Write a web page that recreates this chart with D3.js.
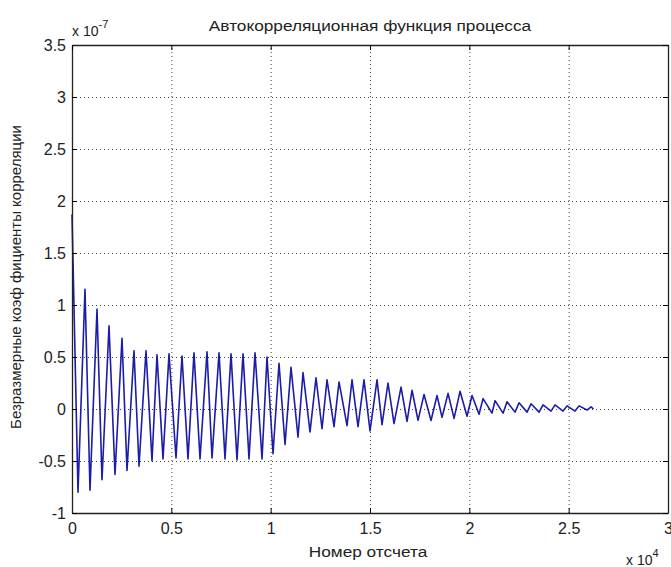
<html>
<head>
<meta charset="utf-8">
<script src="https://cdn.jsdelivr.net/npm/d3@7"></script>
<style>
  body { margin: 0; background: #fff; }
  text { font-family: "Liberation Sans", Arial, sans-serif; fill: #222; }
</style>
</head>
<body>
<script>
// autocorrelation, values in units of 1e-7, lag in samples
var peakLag = [0, 654, 1259, 1863, 2517, 3121, 3725, 4279, 4883, 5537, 6141, 6796,
  7400, 8004, 8608, 9212, 9816, 10420, 11024, 11629, 12283, 12837, 13441, 14095,
  14699, 15354, 15907, 16562, 17116, 17720, 18374, 18928, 19532, 20136, 20690,
  21294, 21898, 22502, 23106, 23710, 24315, 24919, 25523, 26127];
var peakVal = [1.87, 1.15, 0.96, 0.80, 0.68, 0.56, 0.56, 0.52, 0.53, 0.51, 0.54, 0.55,
  0.54, 0.53, 0.53, 0.54, 0.50, 0.44, 0.40, 0.35, 0.30, 0.28, 0.26, 0.28,
  0.28, 0.28, 0.25, 0.21, 0.18, 0.14, 0.13, 0.15, 0.17, 0.13, 0.10,
  0.08, 0.07, 0.06, 0.05, 0.04, 0.04, 0.03, 0.03, 0.02];
var troughLag = [302, 906, 1510, 2165, 2769, 3373, 4027, 4581, 5235, 5839, 6444, 7048,
  7702, 8306, 8910, 9565, 10118, 10722, 11377, 11981, 12585, 13189, 13844, 14397,
  15001, 15605, 16209, 16864, 17418, 18072, 18626, 19230, 19884, 20488, 21143,
  21697, 22301, 22905, 23509, 24113, 24717, 25321, 25925, 26250];
var troughVal = [-0.80, -0.78, -0.68, -0.63, -0.59, -0.55, -0.50, -0.48, -0.47, -0.48, -0.48, -0.47,
  -0.48, -0.49, -0.48, -0.48, -0.43, -0.34, -0.27, -0.22, -0.19, -0.17, -0.16, -0.17,
  -0.21, -0.15, -0.14, -0.12, -0.11, -0.11, -0.08, -0.09, -0.07, -0.05, -0.04,
  -0.04, -0.03, -0.03, -0.03, -0.02, -0.02, -0.02, -0.01, 0.0];

var xTicks = [0, 5000, 10000, 15000, 20000, 25000, 30000];
var yTicks = [-1, -0.5, 0, 0.5, 1, 1.5, 2, 2.5, 3, 3.5];

var titleText = "Автокорреляционная функция процесса";
var xLabel = "Номер отсчета";
var yLabel = "Безразмерные коэф фициенты корреляции";

var W = 671, H = 567;
var margin = {left: 72, right: 3, top: 45, bottom: 54};
var width = W - margin.left - margin.right,
    height = H - margin.top - margin.bottom;

var svg = d3.select("body").append("svg")
    .attr("width", W).attr("height", H);
var g = svg.append("g")
    .attr("transform", "translate(" + margin.left + "," + margin.top + ")");

var x = d3.scaleLinear().domain([0, 30000]).range([0, width]);
var y = d3.scaleLinear().domain([-1, 3.5]).range([height, 0]);

// grid
g.append("g").attr("class", "grid")
    .attr("transform", "translate(0," + height + ")")
    .call(d3.axisBottom(x).tickValues(xTicks).tickSize(-height).tickFormat(""));
g.append("g").attr("class", "grid")
    .call(d3.axisLeft(y).tickValues(yTicks).tickSize(-width).tickFormat(""));
g.selectAll(".grid .domain").remove();
g.selectAll(".grid line")
    .attr("stroke", "#444").attr("stroke-dasharray", "1,3").attr("stroke-width", 1);

// signal
var pts = [];
peakLag.forEach(function(l, i) {
  pts.push([l, peakVal[i]]);
  pts.push([troughLag[i], troughVal[i]]);
});
var line = d3.line().x(function(d) { return x(d[0]); }).y(function(d) { return y(d[1]); });
g.append("path").datum(pts)
    .attr("d", line)
    .attr("fill", "none")
    .attr("stroke", "#1c1ca8")
    .attr("stroke-width", 1.6)
    .attr("stroke-linejoin", "round");

// axes with inward ticks
var fmt = function(d) { return String(d); };
var fmtX = function(d) { return String(d / 10000); };
var xAx = g.append("g").attr("transform", "translate(0," + height + ")")
    .call(d3.axisBottom(x).tickValues(xTicks).tickSizeInner(-5).tickSizeOuter(0).tickPadding(10).tickFormat(fmtX));
var yAx = g.append("g")
    .call(d3.axisLeft(y).tickValues(yTicks).tickSizeInner(-5).tickSizeOuter(0).tickPadding(6).tickFormat(fmt));
g.append("g")
    .call(d3.axisTop(x).tickValues(xTicks).tickSizeInner(-5).tickSizeOuter(0).tickFormat(""));
g.append("g").attr("transform", "translate(" + width + ",0)")
    .call(d3.axisRight(y).tickValues(yTicks).tickSizeInner(-5).tickSizeOuter(0).tickFormat(""));
g.selectAll(".domain").attr("stroke", "#222").attr("stroke-width", 1.3);
xAx.selectAll("text").style("font-size", "16px").attr("fill", "#333");
yAx.selectAll("text").style("font-size", "16px").attr("fill", "#333");

// labels (the reference text is a bit wider than tall, so stretch horizontally)
svg.append("text")
    .attr("transform", "translate(" + (margin.left + width / 2) + ",31) scale(1.15,1)")
    .attr("text-anchor", "middle").style("font-size", "15px").text(titleText);
svg.append("text")
    .attr("transform", "translate(" + (margin.left + width / 2 - 2) + ",557) scale(1.15,1)")
    .attr("text-anchor", "middle").style("font-size", "15px").text(xLabel);
svg.append("text")
    .attr("transform", "translate(21," + (margin.top + height / 2 - 2) + ") rotate(-90)")
    .attr("text-anchor", "middle").style("font-size", "15px").text(yLabel);

// exponent labels
var e1 = svg.append("text").attr("x", 72).attr("y", 36).style("font-size", "14px");
e1.append("tspan").text("x 10");
e1.append("tspan").attr("dy", -8).style("font-size", "11px").text("-7");
var e2 = svg.append("text").attr("x", 626).attr("y", 565).style("font-size", "14px");
e2.append("tspan").text("x 10");
e2.append("tspan").attr("dy", -8).style("font-size", "11px").text("4");
</script>
</body>
</html>
